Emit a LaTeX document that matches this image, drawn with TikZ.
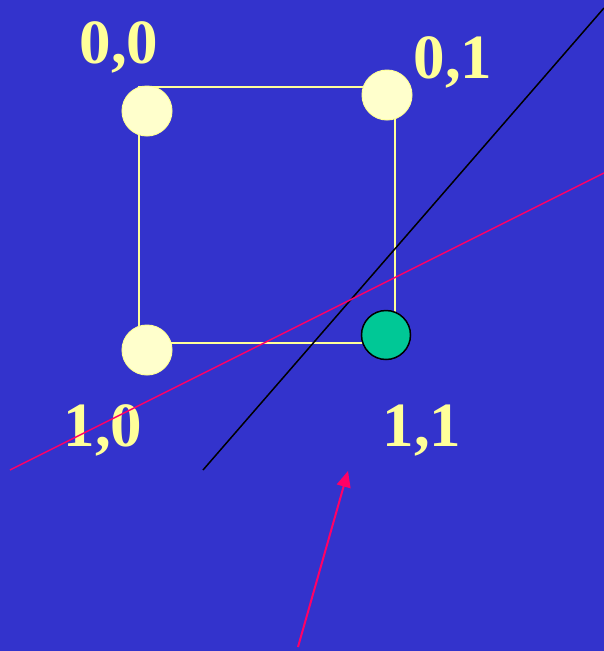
\documentclass[tikz,border=0pt]{standalone}
\usepackage{fontspec}
\setmainfont{Liberation Serif}
\usetikzlibrary{arrows.meta}
\definecolor{bg}{HTML}{3333CC}
\definecolor{ylw}{HTML}{FFFF99}
\definecolor{cream}{HTML}{FFFFCC}
\definecolor{grn}{HTML}{00C896}
\definecolor{rd}{HTML}{FF0066}
\begin{document}
\begin{tikzpicture}[x=1pt,y=-1pt,
  lbl/.style={text=ylw,font=\fontsize{63}{63}\selectfont\bfseries,anchor=base,inner sep=0pt},
  dot/.style={circle,minimum size=50pt,inner sep=0pt,draw=ylw,fill=cream,line width=1pt},
  gdot/.style={circle,minimum size=49pt,inner sep=0pt,draw=black,fill=grn,line width=1.5pt},
  edge/.style={draw=ylw,line width=1.5pt}]
\fill[bg] (0,0) rectangle (604,651);
\useasboundingbox (0,0) rectangle (604,651);
\coordinate (tl) at (139,87);
\coordinate (tr) at (395,87);
\coordinate (br) at (395,343);
\coordinate (bl) at (139,343);
\draw[edge] (tl) -- (tr) -- (br) -- (bl) -- cycle;
\node[dot] (c00) at (147,111) {};
\node[dot] (c01) at (387,95) {};
\node[dot] (c10) at (147,350) {};
\node[gdot] (c11) at (386,335) {};
\node[lbl] (l00) at (119,63) {0,0};
\node[lbl] (l01) at (453,78) {0,1};
\node[lbl] (l10) at (103,446) {1,0};
\node[lbl] (l11) at (422,446) {1,1};
\coordinate (ka) at (203,470);
\coordinate (kb) at (604,8);
\draw[black,line width=1.5pt] (ka) -- (kb);
\coordinate (ra) at (10,470);
\coordinate (rb) at (604,173);
\draw[rd,line width=1.5pt] (ra) -- (rb);
\coordinate (aa) at (298,647);
\coordinate (ab) at (348,471);
\draw[rd,line width=2pt,-{Triangle[length=16pt,width=14pt]}] (aa) -- (ab);
\end{tikzpicture}
\end{document}
